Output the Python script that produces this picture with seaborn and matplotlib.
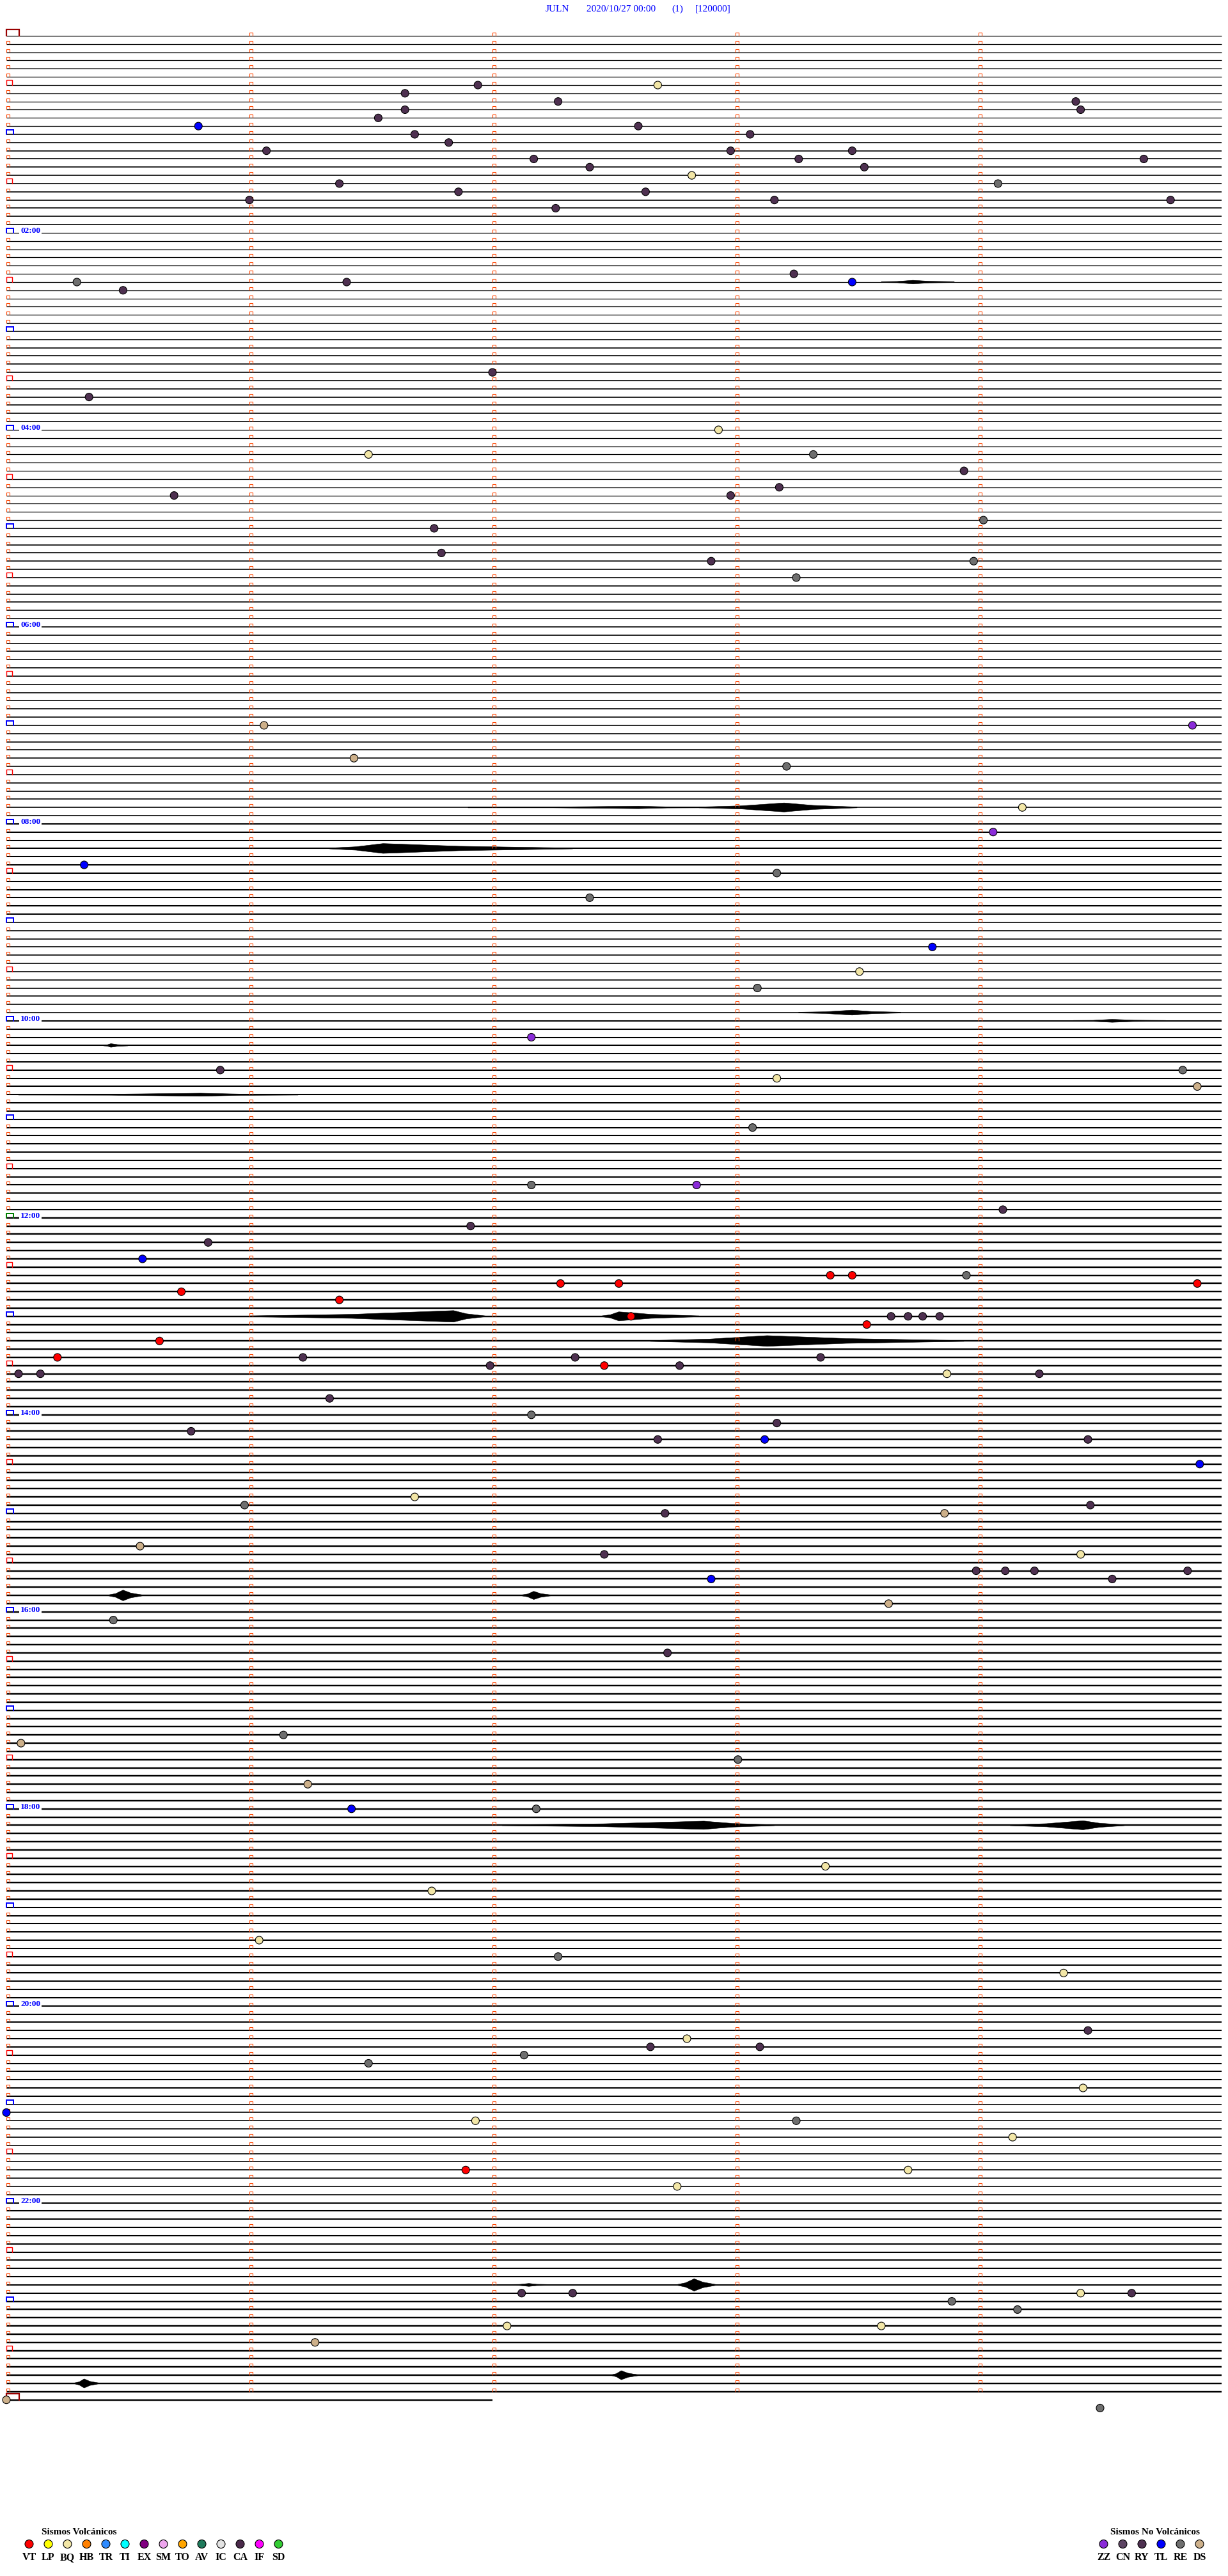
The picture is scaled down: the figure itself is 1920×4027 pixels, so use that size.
import numpy as np
import pandas as pd
import matplotlib
matplotlib.use("Agg")
import matplotlib.pyplot as plt
import seaborn as sns
from matplotlib.collections import LineCollection

# ------------------------------------------------------------------ data
station = "JULN"
start_label = "2020/10/27 00:00"
page_label = "(1)"
scale_label = "[120000]"

minutes_per_line = 5
n_lines = 289                 # 00:00 ... 24:00 (last line partial)
last_line_minutes = 2.0

hour_labels = ["02:00", "04:00", "06:00", "08:00", "10:00", "12:00",
               "14:00", "16:00", "18:00", "20:00", "22:00"]
label_hours = [2, 4, 6, 8, 10, 12, 14, 16, 18, 20, 22]

# background noise level of the trace for each hour (read visually, 0-3)
noise_by_hour = [0, 1, 0, 1, 0, 1, 1, 1, 2, 1, 2, 2,
                 3, 3, 3, 3, 3, 3, 3, 2, 2, 1, 2, 3, 3]

# events: minutes since 00:00 and type code
event_times = [
    31.94, 32.68, 36.64, 42.27, 44.40, 46.64, 49.42, 51.53, 55.79, 57.60,
    61.68, 63.06, 66.82, 71.07, 72.98, 73.48, 77.17, 78.26, 79.68, 82.40,
    83.53, 87.82, 91.37, 94.08, 96.86, 97.63, 101.00, 103.16, 104.79, 107.26,
    148.24, 150.29, 151.40, 153.48, 155.48, 207.00, 220.34,
    242.93, 256.49, 258.32, 268.94, 278.18, 280.69, 282.98, 299.02, 301.76,
    316.79, 322.90, 323.98, 333.25, 421.06, 424.88, 441.43, 448.21, 474.18,
    489.06, 505.32, 513.17, 527.40, 558.81, 573.51, 583.09, 612.16, 630.88,
    634.84, 638.17, 644.90, 668.07, 702.16, 702.84, 719.10,
    726.91, 735.83, 745.56, 758.39, 758.48, 758.95, 762.28, 762.52, 764.90,
    765.72, 771.37, 782.57, 783.64, 783.71, 783.77, 783.84, 788.54, 795.63,
    805.21, 806.22, 807.34, 808.35, 811.99, 812.46, 812.77, 815.05, 815.14,
    818.87, 819.25, 831.33, 842.16, 848.17, 850.76, 857.68, 858.12, 859.45,
    874.91, 891.68, 895.98, 899.46, 902.71, 903.86, 920.55, 927.46, 929.42,
    938.99, 939.11, 939.23, 939.86, 942.90, 944.55, 958.63,
    965.44, 987.72, 1036.14, 1040.06, 1053.01, 1066.24, 1081.42, 1082.18,
    1118.37, 1131.75, 1161.04, 1172.27, 1184.35,
    1219.45, 1222.80, 1227.65, 1228.10, 1232.13, 1236.49, 1254.43, 1265.00,
    1271.93, 1273.25, 1284.14, 1301.89, 1303.71, 1312.76, 1377.12, 1377.33,
    1379.42, 1379.63, 1383.89, 1389.16, 1397.06, 1398.60, 1406.27, 1440.00,
    1449.50,
]
event_types = [
    "RY", "BQ", "RY", "RY", "RY", "RY", "RY", "RY", "TL", "RY",
    "RY", "RY", "RY", "RY", "RY", "RY", "RY", "RY", "RY", "RY",
    "RY", "BQ", "RY", "RE", "RY", "RY", "RY", "RY", "RY", "RY",
    "RY", "RE", "RY", "TL", "RY", "RY", "RY",
    "BQ", "BQ", "RE", "RY", "RY", "RY", "RY", "RE", "RY",
    "RY", "RY", "RE", "RE", "DS", "ZZ", "DS", "RE", "BQ",
    "ZZ", "TL", "RE", "RE", "TL", "BQ", "RE", "ZZ", "RY",
    "RE", "BQ", "DS", "RE", "RE", "ZZ", "RY",
    "RY", "RY", "TL", "VT", "VT", "RE", "VT", "VT", "VT",
    "VT", "VT", "VT", "RY", "RY", "RY", "RY", "VT", "VT",
    "VT", "RY", "RY", "RY", "RY", "VT", "RY", "RY", "RY",
    "BQ", "RY", "RY", "RE", "RY", "RY", "RY", "TL", "RY",
    "TL", "BQ", "RE", "RY", "RY", "DS", "DS", "RY", "BQ",
    "RY", "RY", "RY", "RY", "TL", "RY", "DS",
    "RE", "RY", "RE", "DS", "RE", "DS", "TL", "RE",
    "BQ", "BQ", "BQ", "RE", "BQ",
    "RY", "BQ", "RY", "RY", "RE", "RE", "BQ", "TL",
    "BQ", "RE", "BQ", "VT", "BQ", "BQ", "RY", "RY",
    "BQ", "RY", "RE", "RE", "BQ", "BQ", "DS", "DS",
    "RE",
]

# larger signal bursts on the traces: start, peak, end (minutes since 00:00)
# and half-amplitude as a fraction of the line spacing
burst_start = [153.60, 471.90, 472.85, 496.33, 598.26, 604.39, 615.40,
               645.05, 781.00, 782.45, 797.65, 950.42, 952.12,
               1092.04, 1094.13, 1372.07, 1372.76, 1427.49, 1430.28]
burst_peak = [153.73, 472.60, 473.20, 496.55, 598.48, 604.55, 615.43,
              645.80, 781.84, 782.52, 798.13, 950.48, 952.17,
              1092.87, 1094.43, 1372.15, 1372.83, 1427.53, 1430.32]
burst_end = [153.90, 472.90, 473.50, 497.33, 598.68, 604.77, 615.50,
             646.20, 781.97, 782.85, 798.94, 950.56, 952.24,
             1093.16, 1094.60, 1372.23, 1372.92, 1427.60, 1430.38]
burst_amp = [0.22, 0.15, 0.55, 0.60, 0.30, 0.18, 0.22,
             0.18, 0.70, 0.55, 0.65, 0.65, 0.50,
             0.50, 0.55, 0.18, 0.75, 0.55, 0.55]

volcanic_codes = ["VT", "LP", "BQ", "HB", "TR", "TI", "EX", "SM", "TO",
                  "AV", "IC", "CA", "IF", "SD"]
volcanic_colors = ["#FF0000", "#FFFF00", "#F2E6A6", "#FF8000", "#2E8BFF",
                   "#00FFFF", "#800080", "#EEA6EE", "#FFA500", "#1F7A5C",
                   "#E2E2E2", "#4A2A4A", "#FF00FF", "#33CC33"]
nonvolc_codes = ["ZZ", "CN", "RY", "TL", "RE", "DS"]
nonvolc_colors = ["#8A2BD8", "#5C4462", "#4E3050", "#0000FF", "#6E6E6E",
                  "#CDB08A"]

# ------------------------------------------------------------------ layout
W, H = 1920, 4027
X0_PX, PX_PER_MIN = 10.0, 380.0
Y0_PX, PX_PER_LINE = 56.0, 12.832
serif = ["Liberation Serif", "DejaVu Serif"]

sns.set_theme(style="white")
plt.rcParams["font.family"] = serif

fig = plt.figure(figsize=(W / 100, H / 100), dpi=100)
ax = fig.add_axes([0, 0, 1, 1])

px_x = 1.0 / PX_PER_MIN
px_y = 1.0 / PX_PER_LINE
pt = 0.72  # points per pixel

# ---- trace baselines
lines = np.arange(n_lines)
ends = np.where(lines == n_lines - 1, last_line_minutes, minutes_per_line)
levels = np.array([noise_by_hour[i // 12] for i in lines])
for lv in np.unique(levels):
    sel = levels == lv
    ax.hlines(lines[sel], 0, ends[sel], colors="black",
              linewidth=(1.25 + 0.4 * lv) * pt, zorder=2)

# ---- bursts (envelopes)
for s, p, e, a in zip(burst_start, burst_peak, burst_end, burst_amp):
    ln = int(np.floor(s / minutes_per_line))
    xs = np.array([s, s + 0.5 * (p - s), p, p + 0.4 * (e - p), e]) \
        - ln * minutes_per_line
    amp = np.array([0.05, 0.35 * a, a, 0.45 * a, 0.05])
    ax.fill(np.r_[xs, xs[::-1]], np.r_[ln - amp, (ln + amp)[::-1]],
            color="black", linewidth=0.4, zorder=3)

# ---- minute markers
segs = []
mw, mh = 5 * px_x, 5 * px_y
for i in range(n_lines - 1):
    for k in range(minutes_per_line):
        if k == 0 and i % 6 == 0:
            continue
        segs.append([(k, i), (k, i - mh), (k + mw, i - mh), (k + mw, i)])
ax.add_collection(LineCollection(segs, colors="#FF4500", linewidths=1.1 * pt,
                                 zorder=4))


def box(i, x_left_px, x_right_px, h_px, color, lw):
    xl, xr = x_left_px * px_x, x_right_px * px_x
    ax.plot([xl, xl, xr, xr], [i, i - h_px * px_y, i - h_px * px_y, i],
            color=color, linewidth=lw * pt, zorder=4, solid_joinstyle="miter")


for i in range(n_lines):
    if i == 0 or i == n_lines - 1:
        box(i, -0.5, 19.5, 9.5, "#990000", 2.2)
    elif i % 12 == 6:
        box(i, 0, 9, 7.5, "#FF0000", 1.4)
    elif i % 12 == 0:
        hr = i // 12
        box(i, -0.5, 10.5, 7, "#008000" if hr == 12 else "#0000FF", 2.0)

for lab, hr in zip(hour_labels, label_hours):
    i = hr * 12
    ax.text(22 * px_x, i + 0.5 * px_y, lab, color="#0000FF", fontsize=9.6,
            fontweight="bold", family=serif, ha="left", va="baseline",
            zorder=6, bbox=dict(facecolor="white", edgecolor="none", pad=1.2))

# ---- events
df = pd.DataFrame({"t": event_times, "type": event_types})
df["line"] = np.floor(df["t"] / minutes_per_line + 1e-9)
df["minute"] = df["t"] - df["line"] * minutes_per_line
palette = dict(zip(volcanic_codes + nonvolc_codes,
                   volcanic_colors + nonvolc_colors))
sns.scatterplot(data=df, x="minute", y="line", hue="type", palette=palette,
                s=(12 * pt) ** 2, edgecolor="black", linewidth=0.8,
                legend=False, ax=ax, zorder=7)
ax.set_xlim(-X0_PX / PX_PER_MIN, (W - X0_PX) / PX_PER_MIN)
ax.set_ylim((H - Y0_PX) / PX_PER_LINE, -Y0_PX / PX_PER_LINE)
ax.axis("off")

# ------------------------------------------------------------------ overlay
ov = fig.add_axes([0, 0, 1, 1], facecolor="none")
ov.set_xlim(0, W)
ov.set_ylim(H, 0)
ov.axis("off")

for txt, xl in zip([station, start_label, page_label, scale_label],
                   [853, 917, 1050, 1087]):
    ov.text(xl, 18, txt, color="#0000FF", fontsize=11, family=serif,
            ha="left", va="baseline")


def legend_block(title, title_x, codes, colors, x_first):
    ov.text(title_x, 3962, title, fontsize=11, fontweight="bold",
            family=serif, ha="center", va="baseline", color="black")
    xs = [x_first + 30 * j for j in range(len(codes))]
    ov.scatter(xs, [3977] * len(codes), s=(13 * pt) ** 2, c=colors,
               edgecolors="black", linewidths=0.8, zorder=5)
    for x, c in zip(xs, codes):
        ov.text(x, 4002, c, fontsize=11.5, fontweight="bold", family=serif,
                ha="center", va="baseline", color="black")


legend_block("Sismos Volcánicos", 124, volcanic_codes, volcanic_colors, 45.5)
legend_block("Sismos No Volcánicos", 1806, nonvolc_codes, nonvolc_colors,
             1725.5)

fig.savefig("out.png", dpi=100, facecolor="white")
